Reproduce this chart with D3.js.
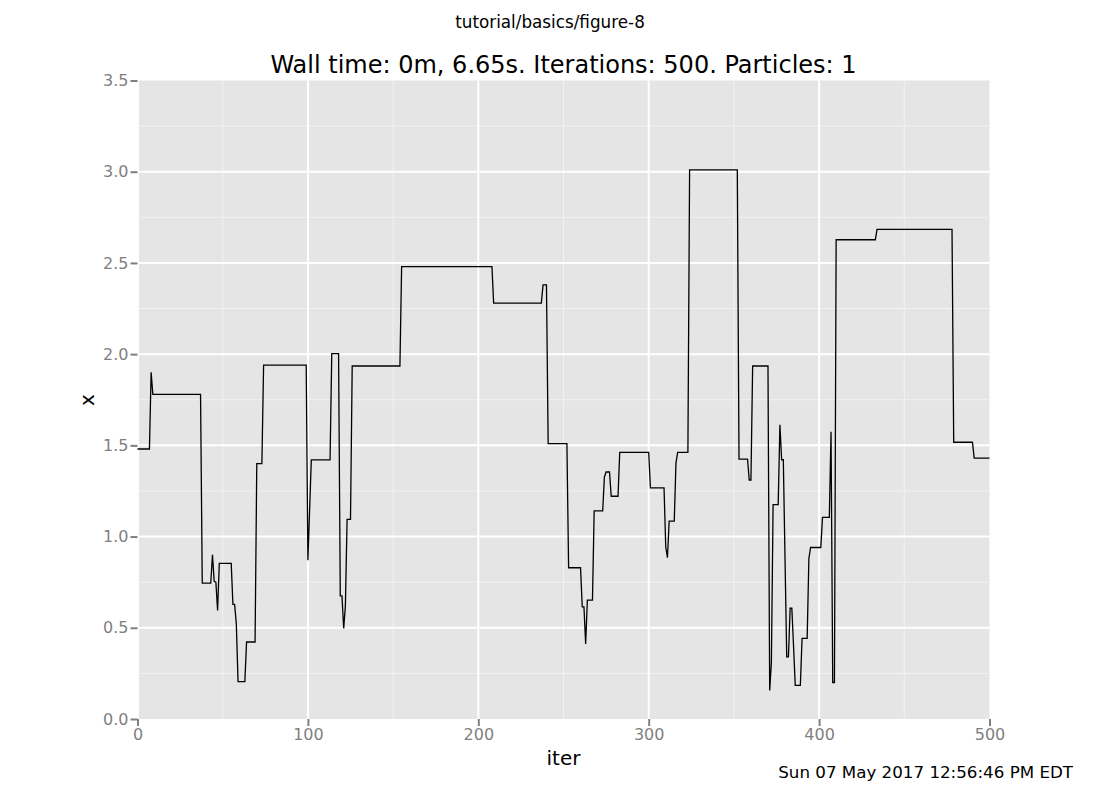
<!DOCTYPE html>
<html>
<head>
<meta charset="utf-8">
<script src="https://cdn.jsdelivr.net/npm/d3@7/dist/d3.min.js"></script>
<style>
  html, body { margin: 0; padding: 0; background: #ffffff; }
  svg { display: block; font-family: "DejaVu Sans", sans-serif; }
</style>
</head>
<body>
<svg id="chart" width="1100" height="800"></svg>
<script>
// ---- data (vertices of the trace: iteration, x value) ----
const iters = [
  0, 7, 8, 9, 37, 38, 43, 44, 45, 46, 47, 48, 55, 56, 57, 58, 59, 63, 64, 69,
  70, 73, 74, 99, 100, 102, 113, 114, 118, 119, 120, 121, 122, 123, 125, 126, 154, 155, 208, 209,
  237, 238, 240, 241, 252, 253, 260, 261, 262, 263, 264, 267, 268, 273, 274, 275, 277, 278, 282, 283,
  300, 301, 309, 310, 311, 312, 315, 316, 317, 323, 324, 352, 353, 358, 359, 360, 361, 370, 371, 372,
  373, 376, 377, 378, 379, 380, 381, 382, 383, 384, 385, 386, 389, 390, 393, 394, 395, 401, 402, 406,
  407, 408, 409, 410, 433, 434, 478, 479, 490, 491, 500
];
const xValues = [
  1.48, 1.48, 1.90, 1.78, 1.78, 0.745, 0.745, 0.90, 0.755, 0.75, 0.595, 0.853, 0.853, 0.628, 0.628, 0.52, 0.205, 0.205, 0.422, 0.422,
  1.40, 1.40, 1.94, 1.94, 0.87, 1.42, 1.42, 2.003, 2.003, 0.675, 0.675, 0.497, 0.62, 1.094, 1.094, 1.935, 1.935, 2.48, 2.48, 2.28,
  2.28, 2.38, 2.38, 1.51, 1.51, 0.829, 0.829, 0.615, 0.615, 0.411, 0.652, 0.652, 1.141, 1.141, 1.327, 1.354, 1.354, 1.221, 1.221, 1.462,
  1.462, 1.267, 1.267, 0.944, 0.884, 1.085, 1.085, 1.404, 1.462, 1.462, 3.01, 3.01, 1.425, 1.425, 1.31, 1.31, 1.935, 1.935, 0.156, 0.31,
  1.175, 1.175, 1.613, 1.421, 1.421, 0.88, 0.34, 0.34, 0.607, 0.607, 0.40, 0.184, 0.184, 0.442, 0.442, 0.88, 0.94, 0.94, 1.105, 1.105,
  1.575, 0.20, 0.20, 2.627, 2.627, 2.684, 2.684, 1.517, 1.517, 1.43, 1.43
];
const xTicks = [0, 100, 200, 300, 400, 500];
const xMinor = [50, 150, 250, 350, 450];
const yTicks = [0.0, 0.5, 1.0, 1.5, 2.0, 2.5, 3.0, 3.5];
const yMinor = [0.25, 0.75, 1.25, 1.75, 2.25, 2.75, 3.25];
const suptitle = "tutorial/basics/figure-8";
const title = "Wall time: 0m, 6.65s. Iterations: 500. Particles: 1";
const xLabel = "iter";
const yLabel = "x";
const stamp = "Sun 07 May 2017 12:56:46 PM EDT";

// ---- layout ----
const svg = d3.select("#chart");
const pLeft = 137.5, pRight = 989.5, pTop = 80.5, pBottom = 719;
const x = d3.scaleLinear().domain([0, 500]).range([pLeft, pRight]);
const y = d3.scaleLinear().domain([0, 3.5]).range([pBottom, pTop]);

// background
svg.append("rect")
  .attr("x", pLeft + 1.5).attr("y", pTop)
  .attr("width", pRight - pLeft - 1.5).attr("height", pBottom - pTop)
  .attr("fill", "#e5e5e5");

const grid = svg.append("g");
// minor grid
grid.selectAll(".vminor").data(xMinor).enter().append("line")
  .attr("x1", d => x(d)).attr("x2", d => x(d))
  .attr("y1", pTop).attr("y2", pBottom)
  .attr("stroke", "#f2f2f2").attr("stroke-width", 1);
grid.selectAll(".hminor").data(yMinor).enter().append("line")
  .attr("x1", pLeft + 1.5).attr("x2", pRight)
  .attr("y1", d => y(d)).attr("y2", d => y(d))
  .attr("stroke", "#f2f2f2").attr("stroke-width", 1);
// major grid
grid.selectAll(".vmajor").data(xTicks.slice(1, -1)).enter().append("line")
  .attr("x1", d => x(d)).attr("x2", d => x(d))
  .attr("y1", pTop).attr("y2", pBottom)
  .attr("stroke", "#ffffff").attr("stroke-width", 2);
grid.selectAll(".hmajor").data(yTicks.slice(1, -1)).enter().append("line")
  .attr("x1", pLeft + 1.5).attr("x2", pRight)
  .attr("y1", d => y(d)).attr("y2", d => y(d))
  .attr("stroke", "#ffffff").attr("stroke-width", 2);

// axes
const tickColor = "#7f7f7f";
const xAxis = d3.axisBottom(x).tickValues(xTicks).tickFormat(d3.format("d"))
  .tickSizeInner(7).tickSizeOuter(0).tickPadding(3);
const gx = svg.append("g").attr("transform", `translate(0,${pBottom})`).call(xAxis);
gx.select(".domain").remove();
gx.selectAll(".tick line").attr("stroke", tickColor).attr("stroke-width", 2);
gx.selectAll(".tick text").attr("fill", tickColor).style("font-size", "16px")
  .style("font-family", "DejaVu Sans, sans-serif");

const yAxis = d3.axisLeft(y).tickValues(yTicks).tickFormat(d3.format(".1f"))
  .tickSizeInner(7).tickSizeOuter(0).tickPadding(2);
const gy = svg.append("g").attr("transform", `translate(${pLeft},0)`).call(yAxis);
gy.select(".domain").remove();
gy.selectAll(".tick line").attr("stroke", tickColor).attr("stroke-width", 2);
gy.selectAll(".tick text").attr("fill", tickColor).style("font-size", "16px")
  .style("font-family", "DejaVu Sans, sans-serif");

// line
const pts = iters.map((d, i) => [d, xValues[i]]);
svg.append("path")
  .datum(pts)
  .attr("fill", "none")
  .attr("stroke", "#000000")
  .attr("stroke-width", 1.3)
  .attr("stroke-linejoin", "miter")
  .attr("d", d3.line().x(d => x(d[0])).y(d => y(d[1])));

// texts
svg.append("text").attr("x", 550).attr("y", 28).attr("text-anchor", "middle")
  .style("font-size", "16.8px").attr("fill", "#000").text(suptitle);
svg.append("text").attr("x", (pLeft + pRight) / 2).attr("y", 73).attr("text-anchor", "middle")
  .style("font-size", "24px").attr("fill", "#000").text(title);
svg.append("text").attr("x", (pLeft + pRight) / 2).attr("y", 765).attr("text-anchor", "middle")
  .style("font-size", "20px").attr("fill", "#000").text(xLabel);
svg.append("text").attr("transform", "translate(94,400) rotate(-90)").attr("text-anchor", "middle")
  .style("font-size", "20px").attr("fill", "#000").text(yLabel);
svg.append("text").attr("x", 1073).attr("y", 778).attr("text-anchor", "end")
  .style("font-size", "16.7px").attr("fill", "#000").text(stamp);
</script>
</body>
</html>
